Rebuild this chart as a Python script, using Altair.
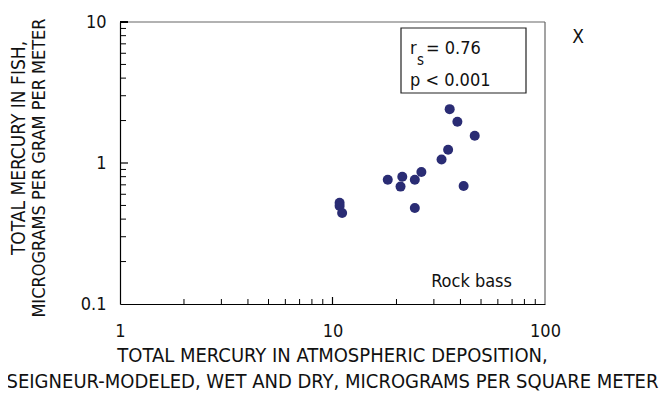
import altair as alt
import pandas as pd

# Data
atm_dep = [35.6, 38.7, 46.7, 35.0, 32.6, 26.2, 21.3, 18.2, 24.4, 20.9, 41.4, 10.8, 10.8, 11.1, 24.4]
fish_hg = [2.41, 1.96, 1.56, 1.24, 1.06, 0.863, 0.80, 0.76, 0.76, 0.68, 0.686, 0.523, 0.496, 0.442, 0.48]

x_minor = [2, 3, 4, 5, 6, 7, 8, 9, 20, 30, 40, 50, 60, 70, 80, 90]
x_major = [10]
y_minor = [0.2, 0.3, 0.4, 0.5, 0.6, 0.7, 0.8, 0.9, 2, 3, 4, 5, 6, 7, 8, 9]
y_major = [1]

FONT = "'Liberation Sans Narrow', 'DejaVu Sans Condensed', 'Roboto', sans-serif"
W, H = 425, 282

pts = pd.DataFrame({"x": atm_dep, "y": fish_hg})

xs = alt.Scale(type="log", domain=[1, 100], nice=False)
ys = alt.Scale(type="log", domain=[0.1, 10], nice=False)

base_x = alt.X("x:Q", scale=xs, axis=alt.Axis(
    values=[1, 10, 100], format="~g", ticks=False, grid=False, domainColor="#000",
    domainWidth=1.2, labelFontSize=18, labelFont=FONT, labelColor="#111",
    labelPadding=18, title=None, labelFlush=False))
base_y = alt.Y("y:Q", scale=ys, axis=alt.Axis(
    values=[0.1, 1, 10], format="~g", ticks=False, grid=False, domainColor="#000",
    domainWidth=1.2, labelFontSize=18, labelFont=FONT, labelColor="#111",
    labelPadding=14, title=None, labelFlush=False))

points = alt.Chart(pts).mark_circle(size=100, opacity=1, color="#2a2c74").encode(x=base_x, y=base_y)

xmin = alt.Chart(pd.DataFrame({"x": x_minor})).mark_rule(color="#000", strokeWidth=1).encode(
    x=alt.X("x:Q", scale=xs), y=alt.value(H), y2=alt.value(H - 5))
xmaj = alt.Chart(pd.DataFrame({"x": x_major})).mark_rule(color="#000", strokeWidth=1.2).encode(
    x=alt.X("x:Q", scale=xs), y=alt.value(H), y2=alt.value(H - 7))
ymin = alt.Chart(pd.DataFrame({"y": y_minor})).mark_rule(color="#000", strokeWidth=1).encode(
    y=alt.Y("y:Q", scale=ys), x=alt.value(0), x2=alt.value(6))
ymaj = alt.Chart(pd.DataFrame({"y": y_major})).mark_rule(color="#000", strokeWidth=1.2).encode(
    y=alt.Y("y:Q", scale=ys), x=alt.value(0), x2=alt.value(8))

top_rule = alt.Chart(pd.DataFrame({"a": [0]})).mark_rule(color="#666", strokeWidth=1.2).encode(
    x=alt.value(0), x2=alt.value(W), y=alt.value(0))
right_rule = alt.Chart(pd.DataFrame({"a": [0]})).mark_rule(color="#666", strokeWidth=1.2).encode(
    x=alt.value(W), y=alt.value(0), y2=alt.value(H))
top_tick = alt.Chart(pd.DataFrame({"a": [0]})).mark_rule(color="#000", strokeWidth=2).encode(
    x=alt.value(0), x2=alt.value(8), y=alt.value(0))

box = alt.Chart(pd.DataFrame({"a": [0]})).mark_rect(fill="white", stroke="#222", strokeWidth=1.2).encode(
    x=alt.value(281), x2=alt.value(406), y=alt.value(6), y2=alt.value(71))

def txt(s, x, y, size=18, align="left", angle=None, baseline="alphabetic"):
    kw = dict(font=FONT, fontSize=size, color="#111", align=align, baseline=baseline)
    if angle is not None:
        kw["angle"] = angle
    return alt.Chart(pd.DataFrame({"a": [0]})).mark_text(**kw).encode(
        x=alt.value(x), y=alt.value(y), text=alt.value(s))

labels = [
    txt("r", 290, 32),
    txt("s", 297, 43, size=15),
    txt("= 0.76", 306, 32),
    txt("p < 0.001", 290, 64),
    txt("X", 458, 21, size=19, align="center"),
    txt("Rock bass", 392, 265, align="right"),
    txt("TOTAL MERCURY IN ATMOSPHERIC DEPOSITION,", W / 2, 340, size=20, align="center"),
    txt("SEIGNEUR-MODELED, WET AND DRY, MICROGRAMS PER SQUARE METER", W / 2, 366, size=20, align="center"),
    txt("TOTAL MERCURY IN FISH,", -101, 126, size=19, angle=270, align="center", baseline="middle"),
    txt("MICROGRAMS PER GRAM PER METER", -80, 146, size=18, angle=270, align="center", baseline="middle"),
]

chart = alt.layer(points, xmin, xmaj, ymin, ymaj, top_rule, right_rule, top_tick, box, *labels).properties(
    width=W, height=H,
    autosize=alt.AutoSizeParams(type="none"),
    padding={"left": 112, "top": 14, "right": 115, "bottom": 100},
).configure_view(stroke=None)

chart.save("out.html", embed_options={"renderer": "svg", "actions": False})
